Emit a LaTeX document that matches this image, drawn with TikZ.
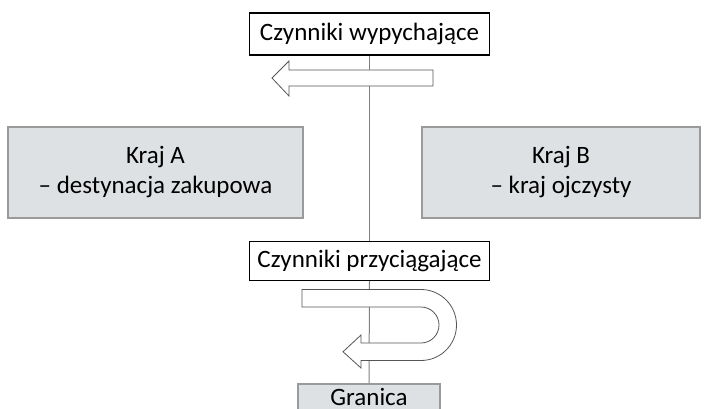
\documentclass[tikz,border=0pt]{standalone}
\usepackage{fontspec}
\setmainfont{Carlito}
\definecolor{boxgray}{HTML}{DEE1E3}
\definecolor{edgegray}{HTML}{9A9A9A}
\definecolor{axisgray}{HTML}{808080}
\definecolor{arrowedge}{HTML}{555555}
\begin{document}
\begin{tikzpicture}[x=1pt,y=1pt,
  txt/.style={font=\fontsize{25}{30}\selectfont, inner sep=0pt},
  factor/.style={txt, draw=black, line width=1.2pt, fill=white, minimum width=240pt},
  country/.style={txt, draw=edgegray, line width=1.4pt, fill=boxgray},
  flowarrow/.style={draw=arrowedge, line width=0.8pt, fill=white, line join=miter}]
  \useasboundingbox (0,0) rectangle (709,-409);

  % factor boxes on the border axis
  \node[factor, minimum height=42pt] (push) at (369.5,-34) {Czynniki wypychające};
  \node[factor, minimum height=39pt] (pull) at (369.5,-261) {Czynniki przyciągające};
  \node[country, minimum width=142pt, minimum height=26pt] (border) at (369,-397) {Granica};

  % the two countries
  \node[country, align=center, minimum width=295pt, minimum height=91pt] (countryA)
    at (155.5,-172.5) {Kraj A\\– destynacja zakupowa};
  \node[country, align=center, minimum width=278pt, minimum height=91pt] (countryB)
    at (561,-172.5) {Kraj B\\– kraj ojczysty};

  % border axis
  \draw[axisgray, line width=1pt] (push.south) -- (pull.north);
  \draw[axisgray, line width=1pt] (pull.south) -- (border.north);

  % push factors: straight arrow towards country A
  \draw[flowarrow] (433,-70) -- (289,-70) -- (289,-61) -- (272,-78) -- (289,-96)
    -- (289,-86) -- (433,-86) -- cycle;

  % pull factors: U-turn arrow back across the border
  \draw[flowarrow] (302,-289.5) -- (421,-289.5) arc[start angle=90, end angle=-90, radius=35.5]
    -- (361,-360.5) -- (361,-368) -- (343,-351.75) -- (361,-335) -- (361,-343)
    -- (421,-343) arc[start angle=-90, end angle=90, radius=18] -- (302,-307) -- cycle;
\end{tikzpicture}
\end{document}
